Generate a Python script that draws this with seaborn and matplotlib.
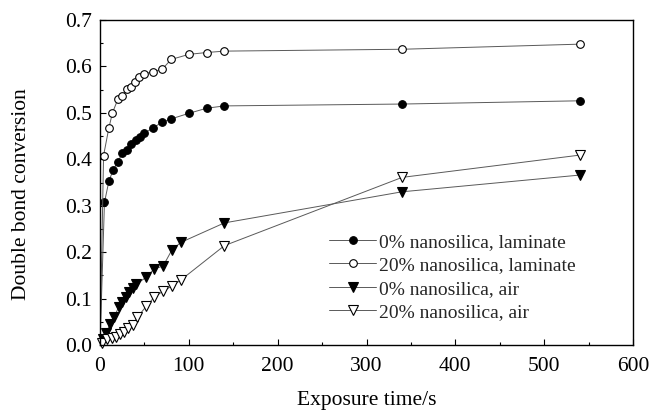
import matplotlib
matplotlib.use("Agg")
import matplotlib.pyplot as plt
import seaborn as sns
import pandas as pd
from matplotlib.ticker import MultipleLocator

sns.set_theme(style="ticks")
plt.rcParams['font.family'] = ['Liberation Serif', 'DejaVu Serif']
plt.rcParams['mathtext.fontset'] = 'stix'

# ---- data ----
lam0_t = [0, 5, 10, 15, 20, 25, 30, 35, 40, 45, 50, 60, 70, 80, 100, 120, 140, 340, 540]
lam0_c = [0.0, 0.307, 0.353, 0.378, 0.394, 0.413, 0.421, 0.432, 0.441, 0.447, 0.456,
          0.468, 0.480, 0.487, 0.499, 0.510, 0.515, 0.519, 0.526]

lam20_t = [0, 4, 10, 14, 20, 25, 30, 35, 39, 44, 50, 60, 70, 80, 100, 120, 140, 340, 540]
lam20_c = [0.0, 0.408, 0.468, 0.500, 0.529, 0.536, 0.551, 0.556, 0.567, 0.577, 0.584,
           0.589, 0.594, 0.615, 0.626, 0.630, 0.633, 0.637, 0.648]

air0_t = [3, 7, 11, 16, 21, 25, 29, 33, 37, 41, 52, 61, 71, 81, 91, 140, 340, 540]
air0_c = [0.012, 0.025, 0.045, 0.060, 0.082, 0.093, 0.104, 0.114, 0.123, 0.131, 0.146,
          0.164, 0.170, 0.205, 0.221, 0.263, 0.330, 0.366]

air20_t = [2, 8, 13, 18, 22, 27, 32, 37, 42, 52, 61, 71, 81, 91, 140, 340, 540]
air20_c = [0.004, 0.012, 0.014, 0.018, 0.024, 0.029, 0.036, 0.043, 0.060, 0.083, 0.103,
           0.116, 0.127, 0.140, 0.214, 0.361, 0.409]

labels = ["0% nanosilica, laminate", "20% nanosilica, laminate",
          "0% nanosilica, air", "20% nanosilica, air"]

fig = plt.figure(figsize=(6.52, 4.11), dpi=100)
ax = fig.add_axes([0.1534, 0.1606, 0.8175, 0.7907])

series = [
    (lam0_t, lam0_c, labels[0], 'o', 'black', 1),
    (lam20_t, lam20_c, labels[1], 'o', 'white', 1),
    (air0_t, air0_c, labels[2], 'v', 'black', 0),
    (air20_t, air20_c, labels[3], 'v', 'white', 0),
]
for t, c, lab, mk, fc, skip in series:
    df = pd.DataFrame({"t": t, "c": c})
    sns.lineplot(data=df, x="t", y="c", ax=ax, estimator=None, sort=False,
                 color='0.35', lw=0.7, marker=mk, markersize=5.5 if mk == 'o' else 6.5,
                 markerfacecolor=fc, markeredgecolor='black', markeredgewidth=0.8,
                 markevery=slice(skip, None), label=lab, clip_on=False if skip == 0 else True)

ax.set_xlim(0, 600)
ax.set_ylim(0, 0.7)
ax.xaxis.set_major_locator(MultipleLocator(100))
ax.xaxis.set_minor_locator(MultipleLocator(50))
ax.yaxis.set_major_locator(MultipleLocator(0.1))
ax.yaxis.set_minor_locator(MultipleLocator(0.05))
ax.yaxis.set_major_formatter(matplotlib.ticker.FormatStrFormatter('%.1f'))
ax.tick_params(which='both', direction='in', top=False, right=False, labelsize=15.5, colors='black')
ax.tick_params(axis='x', which='major', pad=9)
ax.tick_params(axis='y', which='major', pad=6)
ax.tick_params(which='major', length=4, width=0.8)
ax.tick_params(which='minor', length=2.5, width=0.8)
for s in ax.spines.values():
    s.set_color('black')
    s.set_linewidth(1.0)

ax.set_xlabel("Exposure time/s", fontsize=15.5, color='black')
ax.set_ylabel("Double bond conversion", fontsize=15.5, color='black')
ax.xaxis.set_label_coords(0.5, -0.142)
ax.yaxis.set_label_coords(-0.129, 0.465)

leg = ax.legend(loc='upper left', bbox_to_anchor=(0.43, 0.344), frameon=False,
                fontsize=14, handlelength=2.4, labelspacing=0.3, handletextpad=0.15,
                borderpad=0, borderaxespad=0)

fig.savefig("out.png", dpi=100)
